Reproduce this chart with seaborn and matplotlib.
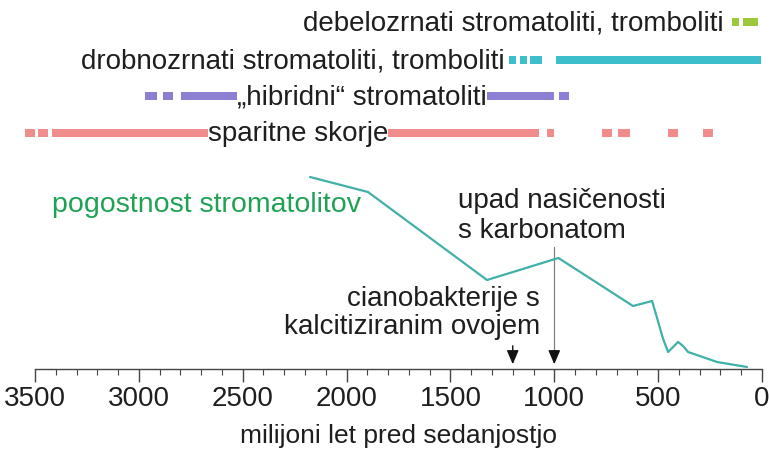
import matplotlib
matplotlib.use("Agg")
import matplotlib.pyplot as plt
from matplotlib.ticker import FixedLocator, MultipleLocator
import seaborn as sns
import pandas as pd

# ---------------- data ----------------
x_ticks = [3500, 3000, 2500, 2000, 1500, 1000, 500, 0]
x_label = "milijoni let pred sedanjostjo"

categories = [
    "debelozrnati stromatoliti, tromboliti",
    "drobnozrnati stromatoliti, tromboliti",
    "„hibridni“ stromatoliti",
    "sparitne skorje",
]
cat_colors = ["#9cc83c", "#3cbfca", "#8b80d2", "#f08c8c"]

# continuous occurrence ranges (start Ma, end Ma)
debelo_solid = []
drobno_solid = [(992, 5)]
hibrid_solid = [(2797, 1001)]
sparit_solid = [(3418, 1073)]
# sporadic occurrences (small blocks)
debelo_sporadic = [(145, 110), (90, 20)]
drobno_sporadic = [(1218, 1184), (1165, 1131), (1117, 1059)]
hibrid_sporadic = [(2970, 2913), (2884, 2836), (977, 929)]
sparit_sporadic = [(3548, 3500), (3486, 3437), (1035, 1001), (770, 722),
                   (693, 635), (452, 404), (284, 236)]

# stromatolite abundance curve (relative units)
abund_age = [2176, 1897, 1324, 980, 621, 529, 476, 452, 404, 380, 356, 216, 130, 72]
abund_val = [192, 177, 89, 111, 63, 68, 30, 17, 27, 23, 17, 7, 4, 2]
abund_label = "pogostnost stromatolitov"

events_age = [1200, 1000]
events_text = ["cianobakterije s\nkalcitiziranim ovojem", "upad nasičenosti\ns karbonatom"]

# ---------------- figure ----------------
sns.set_theme(style="white")
plt.rcParams["font.family"] = ["Liberation Sans", "DejaVu Sans"]
TXT = "#1e1e1e"

fig = plt.figure(figsize=(7.69, 4.52), dpi=100)
ax = fig.add_axes([35 / 769, 82 / 452, 727 / 769, 370 / 452])
ax.set_xlim(3500, 0)
ax.set_ylim(0, 370)

row_y = [347, 309, 273, 236]
solids = [debelo_solid, drobno_solid, hibrid_solid, sparit_solid]
spors = [debelo_sporadic, drobno_sporadic, hibrid_sporadic, sparit_sporadic]
H = 8.5
for y, col, sol, spo in zip(row_y, cat_colors, solids, spors):
    segs = sol + spo
    ax.broken_barh([(e, s - e) for s, e in segs], (y - H / 2, H),
                   facecolors=col, edgecolors="none", clip_on=False, zorder=2)

# row labels
ax.text(183, row_y[0], categories[0], ha="right", va="center", fontsize=20, color=TXT, zorder=3)
ax.text(1237, row_y[1], categories[1], ha="right", va="center", fontsize=20, color=TXT, zorder=3)
ax.text(1926, row_y[2], categories[2], ha="center", va="center", fontsize=20, color=TXT, zorder=3,
        bbox=dict(facecolor="white", edgecolor="none", pad=0.3))
ax.text(2234, row_y[3], categories[3], ha="center", va="center", fontsize=20, color=TXT, zorder=3,
        bbox=dict(facecolor="white", edgecolor="none", pad=0.3))

# abundance curve
df = pd.DataFrame({"age": abund_age, "val": abund_val})
sns.lineplot(data=df, x="age", y="val", ax=ax, color="#40b0a8", lw=1.6, sort=False, zorder=2)
ax.text(3418, 165, abund_label, ha="left", va="center", fontsize=20.5, color="#20a256")

# events
ax.plot([events_age[1], events_age[1]], [122, 14], color="#808080", lw=0.9, zorder=1)
ax.annotate("", xy=(events_age[1], 2), xytext=(events_age[1], 16),
            arrowprops=dict(arrowstyle="-|>,head_length=0.7,head_width=0.3", color="#111", lw=1))
ax.annotate("", xy=(events_age[0], 2), xytext=(events_age[0], 26),
            arrowprops=dict(arrowstyle="-|>,head_length=0.7,head_width=0.3", color="#111", lw=1))
ax.text(1463, 154, events_text[1], ha="left", va="center", fontsize=20, color=TXT, linespacing=1.15)
ax.text(1069, 57, events_text[0], ha="right", va="center", fontsize=20, color=TXT, linespacing=1.15)

# axis styling
for s in ["left", "right", "top"]:
    ax.spines[s].set_visible(False)
ax.spines["bottom"].set_color("#444")
ax.spines["bottom"].set_linewidth(1.0)
ax.xaxis.set_major_locator(FixedLocator(x_ticks))
ax.xaxis.set_minor_locator(MultipleLocator(100))
ax.tick_params(axis="x", which="major", direction="out", length=9.5, width=1, color="#444",
               labelsize=20, labelcolor=TXT, pad=2, bottom=True)
ax.tick_params(axis="x", which="minor", direction="out", length=4.5, width=0.8, color="#444", bottom=True)
ax.set_xticklabels([str(t) for t in x_ticks])
ax.set_yticks([])
ax.set_xlabel(x_label, fontsize=19, color=TXT, labelpad=9)
ax.set_ylabel("")
ax.patch.set_alpha(0)

fig.savefig("out.png", dpi=100)
